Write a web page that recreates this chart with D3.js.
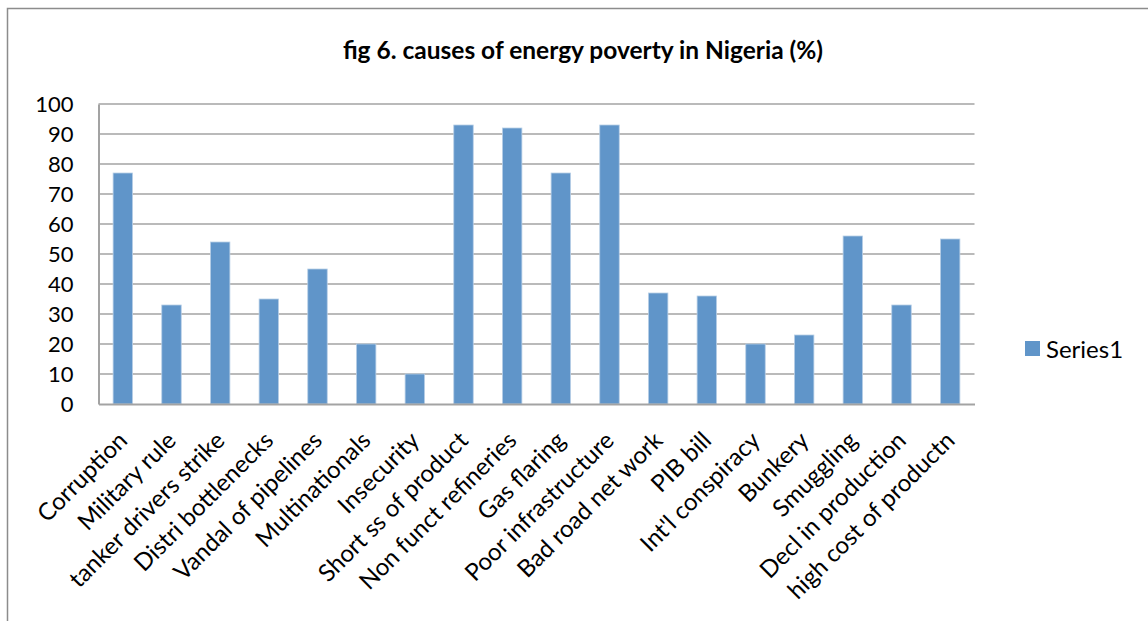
<!DOCTYPE html>
<html>
<head>
<meta charset="utf-8">
<script src="https://cdn.jsdelivr.net/npm/d3@7"></script>
<style>
  html, body { margin: 0; padding: 0; background: #fff; }
  svg { display: block; font-family: Lato, "Open Sans", sans-serif; }
</style>
</head>
<body>
<svg id="chart" width="1148" height="621"></svg>
<script>
// Causes of energy poverty, share of respondents (%)
const categories = [
  "Corruption", "Military rule", "tanker drivers strike", "Distri bottlenecks",
  "Vandal of pipelines", "Multinationals", "Insecurity", "Short ss of product",
  "Non funct refineries", "Gas flaring", "Poor infrastructure", "Bad road net work",
  "PIB bill", "Int'l conspiracy", "Bunkery", "Smuggling", "Decl  in production",
  "high cost of productn"
];
const series1 = [77, 33, 54, 35, 45, 20, 10, 93, 92, 77, 93, 37, 36, 20, 23, 56, 33, 55];
const yTicks = [0, 10, 20, 30, 40, 50, 60, 70, 80, 90, 100];
const seriesName = "Series1";
const titleText = "fig 6. causes of energy poverty in Nigeria (%)";

const svg = d3.select("#chart");
const plot = { left: 98.5, right: 974.5, top: 104, bottom: 404 };
const barColor = "#6095c9";
const gridColor = "#a3a3a3";
const font = "Lato, 'Open Sans', sans-serif";

// outer chart frame
svg.append("rect")
  .attr("x", 7.5).attr("y", 8.5)
  .attr("width", 1160).attr("height", 640)
  .attr("fill", "none").attr("stroke", "#8c8c8c").attr("stroke-width", 1.5);

// title
svg.append("text")
  .attr("x", 583).attr("y", 59)
  .attr("text-anchor", "middle")
  .attr("font-size", 24.5).attr("font-weight", "bold").attr("fill", "#000")
  .text(titleText);

const x = d3.scaleBand()
  .domain(categories)
  .range([plot.left, plot.right])
  .paddingInner(0.6)
  .paddingOuter(0.3);

const y = d3.scaleLinear()
  .domain([0, 100])
  .range([plot.bottom, plot.top]);

// horizontal gridlines
svg.append("g")
  .selectAll("line")
  .data(yTicks.filter(t => t > 0))
  .join("line")
  .attr("x1", plot.left).attr("x2", plot.right)
  .attr("y1", d => y(d)).attr("y2", d => y(d))
  .attr("stroke", gridColor).attr("stroke-width", 1.5);

// bars
svg.append("g")
  .selectAll("rect")
  .data(series1)
  .join("rect")
  .attr("x", (d, i) => x(categories[i]))
  .attr("y", d => y(d))
  .attr("width", x.bandwidth())
  .attr("height", d => y(0) - y(d))
  .attr("fill", barColor)
  .attr("stroke", "#b8cfe7").attr("stroke-width", 0.8);

// y axis
const yAxis = svg.append("g")
  .attr("transform", `translate(${plot.left},0)`)
  .call(d3.axisLeft(y).tickValues(yTicks).tickSize(0).tickPadding(25));
yAxis.select(".domain").attr("stroke", gridColor).attr("stroke-width", 2);
yAxis.selectAll("text")
  .attr("font-size", 22).attr("fill", "#000")
  .attr("font-family", font);

// x axis with rotated category labels
const xAxis = svg.append("g")
  .attr("transform", `translate(0,${plot.bottom})`)
  .call(d3.axisBottom(x).tickSize(0).tickPadding(0));
xAxis.select(".domain").attr("stroke", gridColor).attr("stroke-width", 2);
xAxis.selectAll(".tick text")
  .attr("font-size", 24).attr("fill", "#000")
  .attr("font-family", font)
  .attr("text-anchor", "end")
  .attr("dy", "0")
  .attr("transform", "translate(6,38) rotate(-45)");

// legend
const legend = svg.append("g").attr("transform", "translate(1025,341)");
legend.append("rect")
  .attr("width", 15).attr("height", 15)
  .attr("fill", barColor);
legend.append("text")
  .attr("x", 21).attr("y", 17)
  .attr("font-size", 24).attr("fill", "#000")
  .text(seriesName);
</script>
</body>
</html>
